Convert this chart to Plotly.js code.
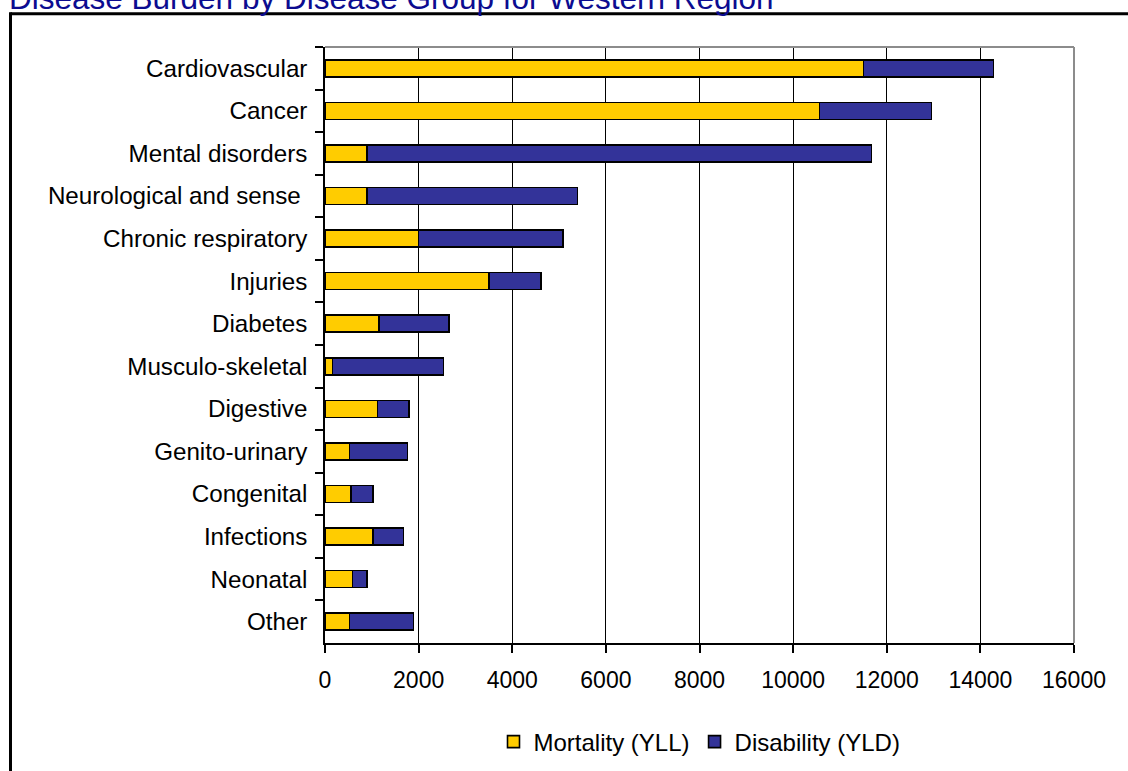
<!DOCTYPE html>
<html>
<head>
<meta charset="utf-8">
<script src="https://cdn.plot.ly/plotly-3.0.1.min.js"></script>
<style>
  html, body { margin: 0; padding: 0; background: #ffffff; overflow: hidden; }
  #chart { width: 1128px; height: 771px; }
</style>
</head>
<body>
<div id="chart"></div>
<script>
// Categories (top to bottom)
const categories = [
  "Cardiovascular", "Cancer", "Mental disorders", "Neurological and sense\u00a0",
  "Chronic respiratory", "Injuries", "Diabetes", "Musculo-skeletal",
  "Digestive", "Genito-urinary", "Congenital", "Infections", "Neonatal", "Other"
];
// Mortality (YLL)
const mortality = [11500, 10560, 900, 900, 2000, 3500, 1150, 160, 1120, 520, 560, 1020, 590, 520];
// Disability (YLD)
const disability = [2780, 2400, 10770, 4490, 3090, 1110, 1500, 2370, 680, 1240, 470, 660, 310, 1370];
const seriesNames = ["Mortality (YLL)", "Disability (YLD)"];
const xTickVals = [0, 2000, 4000, 6000, 8000, 10000, 12000, 14000, 16000];
const chartTitle = "Disease Burden by Disease Group for Western Region";

const W = 1128, H = 771;
const L = 325, R = 54, T = 47, B = 128;
const pw = W - L - R, ph = H - T - B;
const px2x = p => (p - L) / pw;
const py2y = p => (H - B - p) / ph;

const fontFam = "Liberation Sans, Arial, sans-serif";

const traces = [
  {
    type: "bar", orientation: "h", name: seriesNames[0],
    y: categories, x: mortality,
    marker: { color: "#FFCC00", line: { color: "#000000", width: 1.6 } },
    hoverinfo: "x+y+name"
  },
  {
    type: "bar", orientation: "h", name: seriesNames[1],
    y: categories, x: disability,
    marker: { color: "#333399", line: { color: "#000000", width: 1.6 } },
    hoverinfo: "x+y+name"
  }
];

const layout = {
  width: W, height: H,
  margin: { l: L, r: R, t: T, b: B, pad: 0, autoexpand: false },
  paper_bgcolor: "#ffffff",
  plot_bgcolor: "#ffffff",
  barmode: "stack",
  bargap: 0.6,
  font: { family: fontFam, size: 24, color: "#000000" },
  title: {
    text: chartTitle,
    font: { family: fontFam, size: 31.5, color: "#0c0c90" },
    x: 9 / W, xref: "container", xanchor: "left",
    y: 1 - 9 / H, yref: "container", yanchor: "bottom",
    pad: { t: 0, b: 0, l: 0, r: 0 }
  },
  xaxis: {
    range: [0, 16000],
    tickvals: xTickVals,
    ticktext: xTickVals.map(String),
    showgrid: true, gridcolor: "#000000", gridwidth: 1,
    zeroline: false,
    showline: true, linecolor: "#000000", linewidth: 1.5,
    ticks: "outside", ticklen: 8, tickwidth: 1.5, tickcolor: "#000000",
    ticklabelstandoff: 8,
    tickfont: { family: fontFam, size: 23, color: "#000000" },
    automargin: false,
    fixedrange: true
  },
  yaxis: {
    type: "category",
    autorange: "reversed",
    tickson: "boundaries",
    showgrid: false,
    zeroline: false,
    showline: true, linecolor: "#000000", linewidth: 1.5,
    ticks: "outside", ticklen: 8, tickwidth: 1.5, tickcolor: "#000000",
    ticklabelstandoff: 11,
    tickfont: { family: fontFam, size: 24.2, color: "#000000" },
    automargin: false,
    fixedrange: true
  },
  legend: {
    orientation: "h",
    x: 0.5, xanchor: "center",
    y: py2y(742), yanchor: "middle",
    font: { family: fontFam, size: 24, color: "#000000" },
    bgcolor: "rgba(0,0,0,0)",
    itemwidth: 30,
    traceorder: "normal"
  },
  showlegend: true,
  shapes: [
    // plot area border (top and right, grey)
    { type: "line", xref: "paper", yref: "paper", x0: 0, x1: 1, y0: 1, y1: 1,
      line: { color: "#8c8c8c", width: 2 }, layer: "above" },
    { type: "line", xref: "paper", yref: "paper", x0: 1, x1: 1, y0: 0, y1: 1,
      line: { color: "#8c8c8c", width: 2 }, layer: "above" },
    // chart area border (black, thick)
    { type: "line", xref: "paper", yref: "paper",
      x0: px2x(10.5), x1: px2x(1140), y0: py2y(13.8), y1: py2y(13.8),
      line: { color: "#000000", width: 3 }, layer: "above" },
    { type: "line", xref: "paper", yref: "paper",
      x0: px2x(10.5), x1: px2x(10.5), y0: py2y(12.3), y1: py2y(790),
      line: { color: "#000000", width: 3 }, layer: "above" }
  ]
};

Plotly.newPlot("chart", traces, layout, { displayModeBar: false, staticPlot: false });
</script>
</body>
</html>
